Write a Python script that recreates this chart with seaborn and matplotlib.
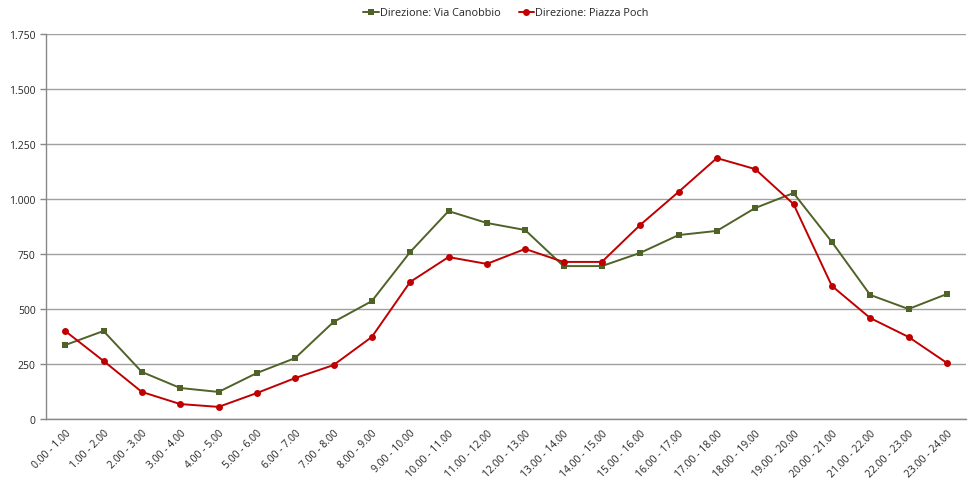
import pandas as pd
import matplotlib.pyplot as plt
import matplotlib.ticker as mticker
import seaborn as sns

# fasce orarie
fasce = ["0.00 - 1.00", "1.00 - 2.00", "2.00 - 3.00", "3.00 - 4.00", "4.00 - 5.00",
         "5.00 - 6.00", "6.00 - 7.00", "7.00 - 8.00", "8.00 - 9.00", "9.00 - 10.00",
         "10.00 - 11.00", "11.00 - 12.00", "12.00 - 13.00", "13.00 - 14.00",
         "14.00 - 15.00", "15.00 - 16.00", "16.00 - 17.00", "17.00 - 18.00",
         "18.00 - 19.00", "19.00 - 20.00", "20.00 - 21.00", "21.00 - 22.00",
         "22.00 - 23.00", "23.00 - 24.00"]

via_canobbio = [336, 400, 214, 141, 123, 209, 277, 441, 536, 759, 945, 891,
                859, 695, 695, 755, 836, 855, 959, 1027, 805, 564, 500, 568]
piazza_poch = [400, 264, 123, 68, 55, 118, 186, 245, 373, 623, 736, 705,
               773, 714, 714, 882, 1032, 1186, 1136, 977, 605, 459, 373, 255]

serie = ["Direzione: Via Canobbio", "Direzione: Piazza Poch"]
colori = {serie[0]: "#4F6228", serie[1]: "#C00000"}
marker = {serie[0]: "s", serie[1]: "o"}

df = pd.DataFrame({
    "pos": list(range(len(fasce))) * 2,
    "valore": via_canobbio + piazza_poch,
    "serie": [serie[0]] * len(fasce) + [serie[1]] * len(fasce),
})

sns.set_style("white")
plt.rcParams['font.family'] = ['Open Sans', 'DejaVu Sans']

fig = plt.figure(figsize=(9.69, 4.81), dpi=100)
ax = fig.add_axes([46 / 969, 1 - 420 / 481, 920 / 969, 385 / 481])

sns.lineplot(data=df, x="pos", y="valore", hue="serie", style="serie",
             palette=colori, markers=marker, dashes=False, markersize=5,
             markeredgewidth=0, linewidth=1.4, ax=ax, legend=True)

ax.set_xlim(-0.5, len(fasce) - 0.5)
ax.set_ylim(0, 1750)
ax.yaxis.set_major_locator(mticker.MultipleLocator(250))
ax.yaxis.set_major_formatter(mticker.FuncFormatter(lambda v, p: f"{int(v):,}".replace(",", ".")))
ax.grid(axis="y", color="#a0a0a0", linewidth=1)
ax.set_axisbelow(True)

ax.set_xticks(range(len(fasce)))
ax.set_xticklabels(fasce, rotation=45, ha="right", rotation_mode="anchor", fontsize=7.5)
ax.set_xticks([i - 0.5 for i in range(len(fasce) + 1)], minor=True)
ax.tick_params(axis="x", which="major", length=0, pad=6)
ax.tick_params(axis="x", which="minor", length=4, color="#888888", width=1)
ax.tick_params(axis="y", length=4, color="#888888", width=1, labelsize=7.5, left=True)

for s in ["top", "right"]:
    ax.spines[s].set_visible(False)
for s in ["left", "bottom"]:
    ax.spines[s].set_color("#888888")
    ax.spines[s].set_linewidth(1)

ax.set_xlabel("")
ax.set_ylabel("")

handles, labels = ax.get_legend_handles_labels()
ax.legend(handles, labels, loc="lower center", bbox_to_anchor=(0.5, 1.015), ncol=2,
          frameon=False, fontsize=7.8, handlelength=1.4, handletextpad=0.1,
          columnspacing=1.7)

plt.savefig("out.png", dpi=100)
